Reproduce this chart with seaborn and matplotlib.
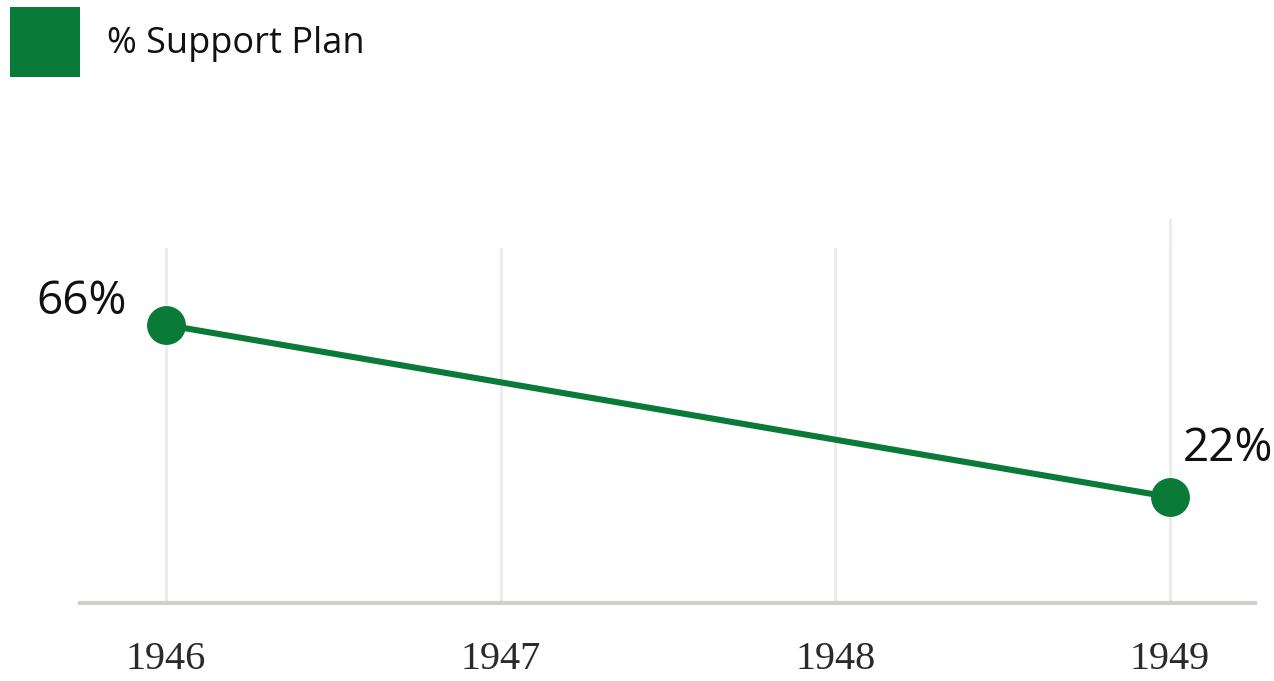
import matplotlib
matplotlib.use("Agg")
import matplotlib.pyplot as plt
import seaborn as sns
import pandas as pd
from matplotlib.patches import Patch

years = [1946, 1949]
support = [66, 22]
tick_years = [1946, 1947, 1948, 1949]
series_name = "% Support Plan"
green = "#0a7a38"

sns.set_theme(style="white")
plt.rcParams['font.family'] = ['Open Sans', 'DejaVu Sans']

df = pd.DataFrame({"year": years, "support": support})

fig = plt.figure(figsize=(12.74, 6.81), dpi=100)
ax = fig.add_axes([0.0628, 0.1145, 0.9222, 0.5215])

sns.lineplot(data=df, x="year", y="support", ax=ax, color=green, linewidth=4.4,
             marker="o", markersize=28, markeredgewidth=0, markerfacecolor=green)

ax.set_xlim(1945.743, 1949.254)
ax.set_ylim(-5.1, 85.7)
ax.set_xticks(tick_years)
ax.set_xticklabels([str(y) for y in tick_years], family="Liberation Serif",
                   fontsize=29, color="#2a2a2a")
ax.set_yticks([])
ax.set_xlabel("")
ax.set_ylabel("")
ax.tick_params(axis="x", length=0, pad=27)
ax.grid(axis="x", color="#ebebeb", linewidth=2)
ax.axvline(tick_years[-1], ymin=0, ymax=1.08, color="#ebebeb", linewidth=2,
           clip_on=False, zorder=0)
ax.set_axisbelow(True)
for s in ["top", "right", "left"]:
    ax.spines[s].set_visible(False)
ax.spines["bottom"].set_color("#cfd0cc")
ax.spines["bottom"].set_linewidth(3)

# value labels
ax.annotate(f"{support[0]}%", (years[0], support[0]), xytext=(-28, 0),
            textcoords="offset points", ha="right", va="bottom", fontsize=33, color="#111111")
ax.annotate(f"{support[1]}%", (years[1], support[1]), xytext=(9, 18),
            textcoords="offset points", ha="left", va="bottom", fontsize=33, color="#111111")

handle = Patch(facecolor=green, edgecolor="none")
fig.legend([handle], [series_name], loc="upper left", bbox_to_anchor=(0.008, 0.99),
           frameon=False, fontsize=26, handlelength=1.94, handleheight=2.6,
           handletextpad=0.75, borderpad=0, borderaxespad=0, labelcolor="#111111")

fig.savefig("out.png", dpi=100)
